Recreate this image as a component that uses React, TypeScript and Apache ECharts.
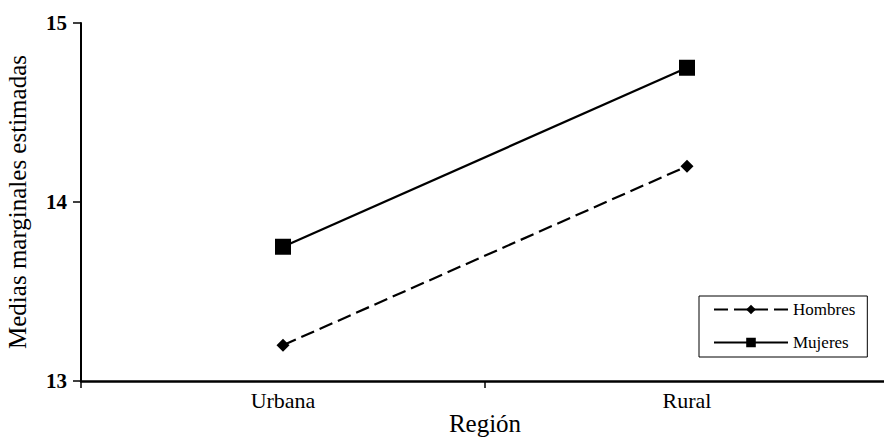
import React, { useEffect, useRef } from "react";
import * as echarts from "echarts";

const categories = ["Urbana", "Rural"];
const hombres = [13.2, 14.2];
const mujeres = [13.75, 14.75];
const yTicks = [13, 14, 15];
const legendNames = ["Hombres", "Mujeres"];

const FONT = "Liberation Serif";

export default function App() {
  const ref = useRef<HTMLDivElement>(null);
  useEffect(() => {
    if (!ref.current) return;
    const chart = echarts.init(ref.current, null, { renderer: "svg" });
    chart.setOption({
      animation: false,
      backgroundColor: "#ffffff",
      grid: { left: 81, right: -5, top: 23, bottom: 59, outerBoundsMode: "none", containLabel: false },
      legend: {
        orient: "vertical",
        left: 699,
        top: 296,
        width: 164,
        itemWidth: 74,
        itemHeight: 12,
        itemGap: 16,
        padding: [5, 12, 6, 14],
        borderColor: "#000",
        borderWidth: 1,
        textStyle: { fontFamily: FONT, fontSize: 17, color: "#000", lineHeight: 17 },
        data: legendNames,
      },
      xAxis: {
        type: "category",
        data: categories,
        boundaryGap: true,
        name: "Región",
        nameLocation: "middle",
        nameGap: 30,
        nameMoveOverlap: false,
        nameTextStyle: { fontFamily: FONT, fontSize: 25, color: "#000", lineHeight: 25 },
        axisLine: { lineStyle: { color: "#000", width: 2.5 } },
        axisTick: { show: true, length: 7, lineStyle: { color: "#000", width: 1.5 } },
        axisLabel: { fontFamily: FONT, fontSize: 22, color: "#000", margin: 8 },
        splitLine: { show: false },
      },
      yAxis: {
        type: "value",
        min: yTicks[0],
        max: yTicks[yTicks.length - 1],
        interval: 1,
        name: "Medias marginales estimadas",
        nameLocation: "middle",
        nameGap: 51,
        nameMoveOverlap: false,
        nameTextStyle: { fontFamily: FONT, fontSize: 25, color: "#000" },
        axisLine: { show: true, lineStyle: { color: "#000", width: 2 } },
        axisTick: { show: true, length: 8, lineStyle: { color: "#000", width: 1.5 } },
        axisLabel: { fontFamily: FONT, fontSize: 21, fontWeight: "bold", color: "#000", margin: 14 },
        splitLine: { show: false },
      },
      series: [
        {
          name: "Hombres",
          type: "line",
          data: hombres,
          symbol: "diamond",
          symbolSize: 13,
          itemStyle: { color: "#000" },
          lineStyle: { color: "#000", width: 2.2, type: [14, 6] },
        },
        {
          name: "Mujeres",
          type: "line",
          data: mujeres,
          symbol: "rect",
          symbolSize: 16,
          itemStyle: { color: "#000" },
          lineStyle: { color: "#000", width: 2.2, type: "solid" },
        },
      ],
    });
    return () => chart.dispose();
  }, []);
  return <div ref={ref} style={{ width: 884, height: 440, position: "absolute", left: 0, top: 0 }} />;
}
